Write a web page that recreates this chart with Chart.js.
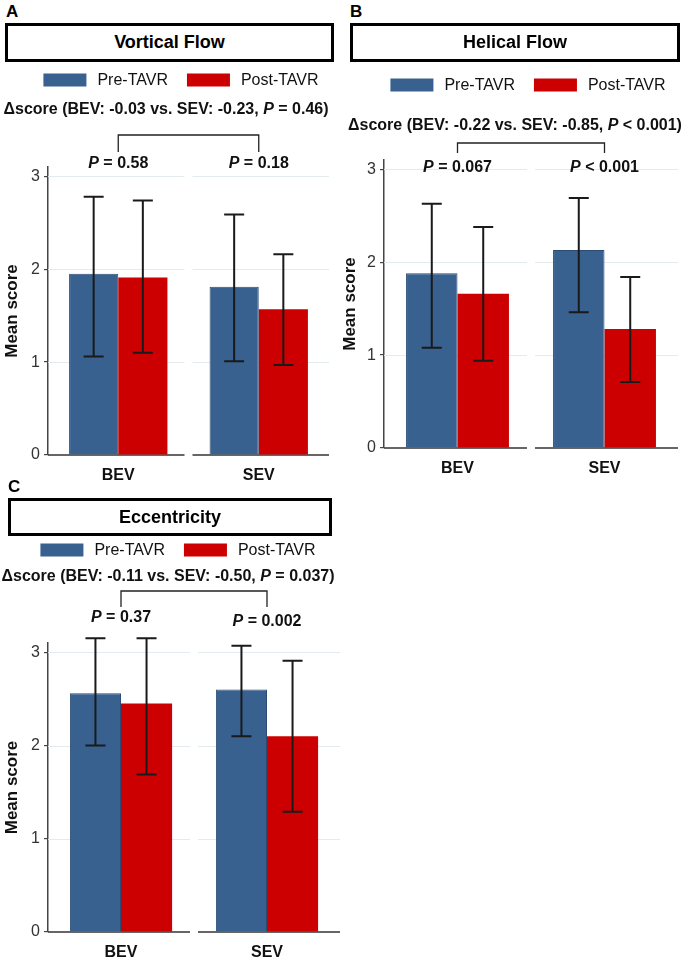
<!DOCTYPE html>
<html lang="en">
<head>
  <meta charset="UTF-8" />
  <title>Flow scores before and after TAVR</title>
  <script src="https://cdn.jsdelivr.net/npm/chart.js"></script>
  <style>
    body {
      margin: 0;
      background: #fff;
      font-family: 'Liberation Sans', Arial, sans-serif;
      color: #000;
    }
    .letter {
      position: absolute;
      font-weight: bold;
      font-size: 17px;
    }
    .titlebox {
      position: absolute;
      border: 3px solid #000;
      text-align: center;
      font-weight: bold;
      font-size: 18px;
      box-sizing: border-box;
    }
    canvas {
      position: absolute;
    }
  </style>
</head>
<body>
  <div class="letter" style="left:6px; top:2px;">A</div>
  <div class="titlebox" style="left:5px; top:23px; width:329px; height:39px; line-height:33px;">Vortical Flow</div>
  <canvas id="chartA" width="340" height="416" style="left:0; top:64px;"></canvas>

  <div class="letter" style="left:350px; top:2px;">B</div>
  <div class="titlebox" style="left:350px; top:23px; width:330px; height:39px; line-height:33px;">Helical Flow</div>
  <canvas id="chartB" width="347" height="411" style="left:338px; top:69px;"></canvas>

  <div class="letter" style="left:8px; top:477px;">C</div>
  <div class="titlebox" style="left:8px; top:498px; width:324px; height:38px; line-height:32px;">Eccentricity</div>
  <canvas id="chartC" width="340" height="427" style="left:0; top:534px;"></canvas>

  <script>
    const groups = ['BEV', 'SEV'];
    const seriesNames = ['Pre-TAVR', 'Post-TAVR'];
    const yTicks = [0, 1, 2, 3];

    // A: vortical flow
    const vorticalPre = [1.95, 1.81];
    const vorticalPost = [1.91, 1.57];
    const vorticalPreLow = [1.06, 1.01];
    const vorticalPreHigh = [2.78, 2.59];
    const vorticalPostLow = [1.10, 0.97];
    const vorticalPostHigh = [2.74, 2.16];
    const vorticalDelta = ['\u0394score (BEV: -0.03 vs. SEV: -0.23, ', ' = 0.46)'];
    const vorticalP = [' = 0.58', ' = 0.18'];

    // B: helical flow
    const helicalPre = [1.88, 2.13];
    const helicalPost = [1.66, 1.28];
    const helicalPreLow = [1.08, 1.46];
    const helicalPreHigh = [2.63, 2.69];
    const helicalPostLow = [0.94, 0.71];
    const helicalPostHigh = [2.38, 1.84];
    const helicalDelta = ['\u0394score (BEV: -0.22 vs. SEV: -0.85, ', ' < 0.001)'];
    const helicalP = [' = 0.067', ' < 0.001'];

    // C: eccentricity
    const eccPre = [2.56, 2.60];
    const eccPost = [2.45, 2.10];
    const eccPreLow = [2.00, 2.10];
    const eccPreHigh = [3.15, 3.07];
    const eccPostLow = [1.69, 1.29];
    const eccPostHigh = [3.15, 2.91];
    const eccDelta = ['\u0394score (BEV: -0.11 vs. SEV: -0.50, ', ' = 0.037)'];
    const eccP = [' = 0.37', ' = 0.002'];

    const FONT = "'Liberation Sans', Arial, sans-serif";
    const BLUE = '#386190';
    const RED = '#cc0000';

    // draws a line of text made of runs with different fonts, centred on cx
    function drawRuns(ctx, runs, cx, cy) {
      let total = 0;
      runs.forEach(r => { ctx.font = r.font; r.w = ctx.measureText(r.text).width; total += r.w; });
      let x0 = cx - total / 2;
      ctx.textAlign = 'left';
      ctx.textBaseline = 'middle';
      runs.forEach(r => { ctx.font = r.font; ctx.fillText(r.text, x0, cy); x0 += r.w; });
    }

    const panelPlugin = {
      id: 'panel',
      beforeDatasetsDraw(chart, args, o) {
        const { ctx, scales: { x, y } } = chart;
        const half = (x.getPixelForValue(1) - x.getPixelForValue(0)) / 2;
        ctx.save();
        groups.forEach((g, i) => {
          const c = x.getPixelForValue(i);
          const l = i === 0 ? x.left : c - half + 4;
          const r = i === groups.length - 1 ? x.right : c + half - 4;
          ctx.strokeStyle = '#e3ebee';
          ctx.lineWidth = 1;
          yTicks.filter(v => v > 0).forEach(v => {
            const py = Math.round(y.getPixelForValue(v)) + 0.5;
            ctx.beginPath(); ctx.moveTo(l, py); ctx.lineTo(r, py); ctx.stroke();
          });
          ctx.strokeStyle = '#333';
          ctx.lineWidth = 1.5;
          const py0 = y.getPixelForValue(0);
          ctx.beginPath(); ctx.moveTo(l, py0); ctx.lineTo(r, py0); ctx.stroke();
        });
        ctx.restore();
      },
      afterDatasetsDraw(chart) {
        const { ctx, scales: { y } } = chart;
        ctx.save();
        ctx.strokeStyle = '#1a1a1a';
        ctx.lineWidth = 2;
        chart.data.datasets.forEach((ds, d) => {
          chart.getDatasetMeta(d).data.forEach((bar, i) => {
            const top = y.getPixelForValue(ds.errHigh[i]);
            const bot = y.getPixelForValue(ds.errLow[i]);
            ctx.beginPath();
            ctx.moveTo(bar.x, top); ctx.lineTo(bar.x, bot);
            ctx.moveTo(bar.x - 10, top); ctx.lineTo(bar.x + 10, top);
            ctx.moveTo(bar.x - 10, bot); ctx.lineTo(bar.x + 10, bot);
            ctx.stroke();
          });
        });
        ctx.restore();
      },
      afterDraw(chart, args, o) {
        const { ctx, scales: { x } } = chart;
        ctx.save();
        ctx.fillStyle = '#111';

        // legend
        const boxW = 43, boxH = 13, textGap = 11, itemGap = 19;
        ctx.font = '16px ' + FONT;
        const widths = chart.data.datasets.map(ds => boxW + textGap + ctx.measureText(ds.label).width);
        let lx = o.legendX - (widths[0] + widths[1] + itemGap) / 2;
        chart.data.datasets.forEach((ds, d) => {
          ctx.fillStyle = ds.backgroundColor;
          ctx.fillRect(lx, o.legendY - boxH / 2, boxW, boxH);
          ctx.fillStyle = '#111';
          ctx.textAlign = 'left';
          ctx.textBaseline = 'middle';
          ctx.fillText(ds.label, lx + boxW + textGap, o.legendY + 1);
          lx += widths[d] + itemGap;
        });

        // delta score line
        drawRuns(ctx, [
          { text: o.delta[0], font: 'bold 16px ' + FONT },
          { text: 'P', font: 'italic bold 16px ' + FONT },
          { text: o.delta[1], font: 'bold 16px ' + FONT }
        ], o.deltaX, o.deltaY);

        // bracket
        const x0 = x.getPixelForValue(0), x1 = x.getPixelForValue(1);
        ctx.strokeStyle = '#222';
        ctx.lineWidth = 1.3;
        ctx.beginPath();
        ctx.moveTo(x0, o.bracketBottom); ctx.lineTo(x0, o.bracketTop);
        ctx.lineTo(x1, o.bracketTop); ctx.lineTo(x1, o.bracketBottom);
        ctx.stroke();

        // per-group P values
        o.pLabels.forEach((t, i) => {
          drawRuns(ctx, [
            { text: 'P', font: 'italic bold 16px ' + FONT },
            { text: t, font: 'bold 16px ' + FONT }
          ], x.getPixelForValue(i), o.pY[i]);
        });
        ctx.restore();
      }
    };

    function makeChart(id, cfg) {
      const canvas = document.getElementById(id);
      new Chart(canvas, {
        type: 'bar',
        data: {
          labels: groups,
          datasets: [
            { label: seriesNames[0], data: cfg.pre, errLow: cfg.preLow, errHigh: cfg.preHigh,
              backgroundColor: BLUE, borderColor: '#2b4c74', borderWidth: 1 },
            { label: seriesNames[1], data: cfg.post, errLow: cfg.postLow, errHigh: cfg.postHigh,
              backgroundColor: RED, borderWidth: 0 }
          ]
        },
        options: {
          responsive: false,
          animation: false,
          layout: { padding: { top: cfg.top, right: canvas.width - cfg.right, left: 0, bottom: 0 } },
          datasets: { bar: { categoryPercentage: 0.7, barPercentage: 1.0 } },
          scales: {
            x: {
              grid: { display: false },
              border: { display: false },
              ticks: { color: '#111', padding: 3, font: { family: FONT, size: 16, weight: 'bold' } },
              afterFit(s) { s.height = canvas.height - cfg.bottom; }
            },
            y: {
              min: 0,
              max: 3.1,
              afterBuildTicks(s) { s.ticks = yTicks.map(v => ({ value: v })); },
              ticks: { color: '#333', padding: 4, font: { family: FONT, size: 16 } },
              grid: { drawOnChartArea: false, tickLength: 4, color: '#444', lineWidth: 1.2 },
              border: { color: '#444', width: 1.5 },
              title: {
                display: true, text: 'Mean score', color: '#111',
                font: { family: FONT, size: 17, weight: 'bold' },
                padding: { top: 2, bottom: 0 }
              },
              afterFit(s) { s.width = cfg.left; }
            }
          },
          plugins: {
            legend: { display: false },
            tooltip: { enabled: false },
            panel: cfg.labels
          }
        },
        plugins: [panelPlugin]
      });
    }

    makeChart('chartA', {
      pre: vorticalPre, post: vorticalPost,
      preLow: vorticalPreLow, preHigh: vorticalPreHigh,
      postLow: vorticalPostLow, postHigh: vorticalPostHigh,
      left: 48, right: 329, top: 103, bottom: 391,
      labels: { legendX: 181, legendY: 16, delta: vorticalDelta, deltaX: 166, deltaY: 46,
                bracketTop: 71, bracketBottom: 88, pLabels: vorticalP, pY: [100, 100] }
    });

    makeChart('chartB', {
      pre: helicalPre, post: helicalPost,
      preLow: helicalPreLow, preHigh: helicalPreHigh,
      postLow: helicalPostLow, postHigh: helicalPostHigh,
      left: 46, right: 340, top: 91, bottom: 379,
      labels: { legendX: 190, legendY: 16, delta: helicalDelta, deltaX: 177, deltaY: 57,
                bracketTop: 74, bracketBottom: 84, pLabels: helicalP, pY: [99, 99] }
    });

    makeChart('chartC', {
      pre: eccPre, post: eccPost,
      preLow: eccPreLow, preHigh: eccPreHigh,
      postLow: eccPostLow, postHigh: eccPostHigh,
      left: 48, right: 340, top: 109, bottom: 398,
      labels: { legendX: 178, legendY: 16, delta: eccDelta, deltaX: 168, deltaY: 43,
                bracketTop: 57, bracketBottom: 73, pLabels: eccP, pY: [84, 88] }
    });
  </script>
</body>
</html>
